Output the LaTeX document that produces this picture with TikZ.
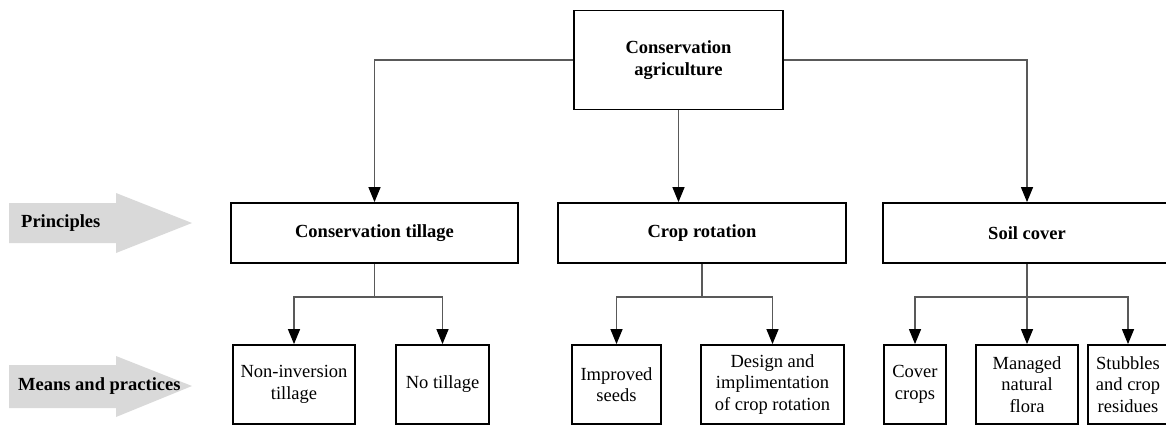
\documentclass[tikz,border=0pt]{standalone}
\usepackage{fontspec}
\setmainfont{Liberation Serif}
\usetikzlibrary{arrows.meta,calc}
\tikzset{
  box/.style={draw=black, line width=1.8pt, fill=white, inner sep=0pt, align=center,
    font=\fontsize{18.5}{21.5}\selectfont},
  bbox/.style={box, font=\bfseries\fontsize{18.5}{21.5}\selectfont},
  conn/.style={draw=black!65, line width=1.3pt},
  arr/.style={conn, -{Triangle[width=12pt,length=15pt,fill=black,color=black]}},
  greyarrow/.style={fill=black!15, draw=none},
  sidelabel/.style={anchor=west, inner sep=0pt, font=\bfseries\fontsize{18.5}{21.5}\selectfont}
}
\begin{document}
\begin{tikzpicture}[x=1pt,y=-1pt]
\useasboundingbox (0,0) rectangle (1166,426);
\clip (0,0) rectangle (1166,426);
% side grey arrows
\fill[greyarrow] (9,203) -- (116,203) -- (116,193) -- (192,223) -- (116,253) -- (116,243) -- (9,243) -- cycle;
\fill[greyarrow] (9,365) -- (116,365) -- (116,356) -- (192,386) -- (116,417) -- (116,408) -- (9,408) -- cycle;
\node[sidelabel] (lp) at (21,223) {Principles};
\node[sidelabel] (lm) at (18,386) {Means and practices};
% top
\node[bbox, minimum width=209pt, minimum height=99pt] (ca) at (678.5,60) {Conservation\\agriculture};
% principles
\node[bbox, minimum width=287pt, minimum height=60pt] (ct) at (374.5,233) {Conservation tillage};
\node[bbox, minimum width=288pt, minimum height=60pt] (cr) at (702,233) {Crop rotation};
\node[bbox, minimum width=288pt, minimum height=60pt] (sc) at (1027,233) {Soil cover};
% means
\node[box, minimum width=122pt, minimum height=79pt] (ni) at (294,384.5) {Non-inversion\\tillage};
\node[box, minimum width=93pt, minimum height=79pt] (nt) at (442.5,384.5) {No tillage};
\node[box, minimum width=89pt, minimum height=79pt] (is) at (616.5,384.5) {Improved\\seeds};
\node[box, minimum width=143pt, minimum height=79pt] (dc) at (772.5,384.5) {Design and\\implimentation\\of crop rotation};
\node[box, minimum width=62pt, minimum height=79pt] (cc) at (915,384.5) {Cover\\crops};
\node[box, minimum width=102pt, minimum height=79pt] (mf) at (1027,384.5) {Managed\\natural\\flora};
\node[box, minimum width=80pt, minimum height=79pt] (sr) at (1128,384.5) {Stubbles\\and crop\\residues};
% top connectors
\draw[arr] (ca.west) -| (ct.north);
\draw[arr] (ca.east) -| (sc.north);
\draw[arr] (ca.south) -- (ca.south |- cr.north);
% forks
\draw[conn] (ct.south) -- ($(ct.south)+(0,33)$) coordinate (j1);
\draw[arr] (j1) -| (ni.north);
\draw[arr] (j1) -| (nt.north);
\draw[conn] (cr.south) -- ($(cr.south)+(0,33)$) coordinate (j2);
\draw[arr] (j2) -| (is.north);
\draw[arr] (j2) -| (dc.north);
\draw[conn] (sc.south) -- ($(sc.south)+(0,33)$) coordinate (j3);
\draw[arr] (j3) -| (cc.north);
\draw[arr] (j3) -- (mf.north);
\draw[arr] (j3) -| (sr.north);
\end{tikzpicture}
\end{document}
